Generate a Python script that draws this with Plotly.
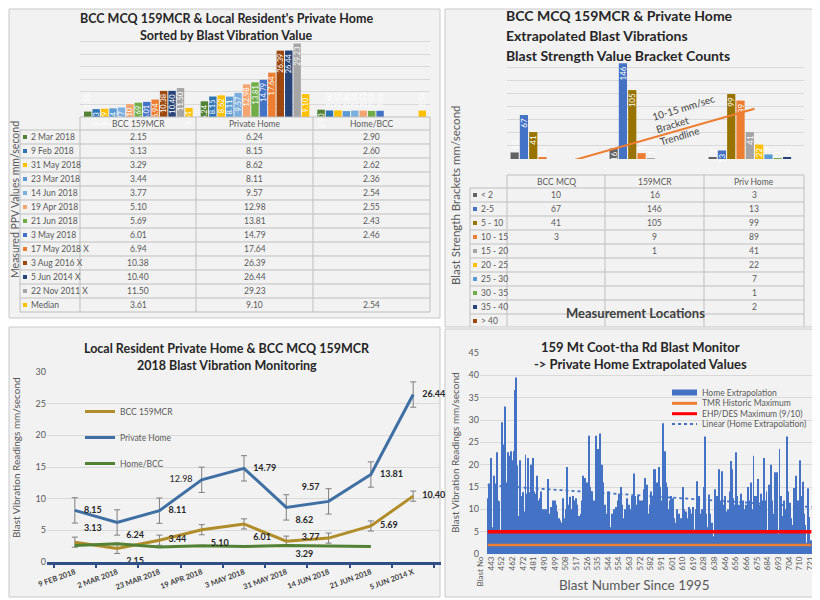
import numpy as np
import plotly.graph_objects as go

W, H = 820, 600
OFF = 8  # the page body margin that offsets the figure in the browser

# ---------------- data: top-left (sorted PPV values) ----------------
ppv_locations = ["BCC 159MCR", "Private Home", "Home/BCC"]
ppv_dates = ["2 Mar 2018", "9 Feb 2018", "31 May 2018", "23 Mar 2018", "14 Jun 2018",
             "19 Apr 2018", "21 Jun 2018", "3 May 2018", "17 May 2018 X", "3 Aug 2016 X",
             "5 Jun 2014 X", "22 Nov 2011 X", "Median"]
ppv_bcc = [2.15, 3.13, 3.29, 3.44, 3.77, 5.10, 5.69, 6.01, 6.94, 10.38, 10.40, 11.50, 3.61]
ppv_home = [6.24, 8.15, 8.62, 8.11, 9.57, 12.98, 13.81, 14.79, 17.64, 26.39, 26.44, 29.23, 9.10]
ppv_ratio = [2.90, 2.60, 2.62, 2.36, 2.54, 2.55, 2.43, 2.46, None, None, None, None, 2.54]

# ---------------- data: top-right (bracket counts) ----------------
brk_locations = ["BCC MCQ", "159MCR", "Priv Home"]
brk_labels = ["< 2", "2-5", "5 - 10", "10 - 15", "15 - 20", "20 - 25", "25 - 30",
              "30 - 35", "35 - 40", "> 40"]
brk_bcc = [10, 67, 41, 3, None, None, None, None, None, None]
brk_mcr = [16, 146, 105, 9, 1, None, None, None, None, None]
brk_home = [3, 13, 99, 89, 41, 22, 7, 1, 2, None]

# ---------------- data: bottom-left (2018 monitoring) ----------------
mon_dates = ["9 FEB 2018", "2 MAR 2018", "23 MAR 2018", "19 APR 2018", "3 MAY 2018",
             "31 MAY 2018", "14 JUN 2018", "21 JUN 2018", "5 JUN 2014 X"]
mon_bcc = [3.13, 2.15, 3.44, 5.10, 6.01, 3.29, 3.77, 5.69, 10.40]
mon_home = [8.15, 6.24, 8.11, 12.98, 14.79, 8.62, 9.57, 13.81, 26.44]
mon_ratio = [2.60, 2.90, 2.36, 2.55, 2.46, 2.62, 2.54, 2.43, None]
mon_bcc_err = 0.8
mon_home_err = 2.0

# ---------------- data: bottom-right (home extrapolation per blast) ----------------
blast_tick_labels = ["Blast No", "443", "452", "462", "472", "481", "490", "499", "508",
                     "517", "526", "535", "544", "554", "563", "572", "582", "591", "601",
                     "610", "619", "628", "638", "646", "656", "666", "675", "684", "693",
                     "704", "710", "721"]
home_extrap = (
    [None, None, None, None, None, None, 12.5, 15.8, 15.5, 21.5]
    + [6, 17.5, 12, 15.8, 22.8, 12, 11.8, 5, 29.5]
    + [21.5, 24.5, 33, 16, 22.8, 21.5, 22, 23, 21]
    + [23, 36.7, 39.5, 19.8, 8.5, 21, 13, 10, 13.8]
    + [9.5, 22.2, 13.5, 21.5, 13.8, 12, 20, 21.5, 14]
    + [8, 13.5, 17.5, 12, 12.5, 14, 10, 4.5, 10]
    + [10, 7, 16.8, 8, 9, 10.5, 12, 11, 12]
    + [11, 9.5, 8, 7.5, 6.5, 7, 12.5, 8, 10]
    + [19.5, 11, 9, 12.8, 10, 13, 12, 9, 12.5]
    + [11, 8.5, 6.5, 9, 12, 17.5, 17, 14, 16]
    + [9, 26.5, 15, 14, 10.5, 12, 11, 26.5, 23.5]
    + [22, 27, 13, 20, 16, 11, 7, 9, 14]
    + [14, 6, 9, 8.5, 10, 9, 10.5, 12, 13.5]
    + [9, 15, 11, 8, 10, 6.5, 12.5, 9, 11]
    + [10, 13, 8, 18, 13, 11, 13, 12, 12]
    + [8, 12, 14.5, 17, 10, 15.5, 9, 11, 14]
    + [13, 10, 19, 19, 16, 14, 19.5, 15, 12]
    + [29.3, 15.5, 23, 16, 15, 10, 12, 13, 10]
    + [12.5, 8, 7, 10, 6, 9, 7.5, 8, 15]
    + [10, 9, 9.5, 8, 10.5, 10, 9, 8.5, 10.5]
    + [5.5, 10, 16.3, 6, 13, 9, 10, 7, 15]
    + [26.3, 9, 6, 13.3, 9, 5, 7, 4, 14.5]
    + [11, 13, 8, 19, 12, 18.5, 10, 11, 13]
    + [9.5, 10, 2.5, 14, 20.8, 19, 12.5, 11, 22.8]
    + [13, 10, 11, 13.5, 9, 12, 9, 10, 11]
    + [15, 9, 12, 16, 10, 22, 13, 11, 13]
    + [16.8, 11, 13.5, 8, 12, 21.5, 12, 14, 5]
    + [15.5, 10, 20, 12, 9, 18.3, 12, 18.3, 4.5]
    + [23.5, 13, 7, 8.5, 12, 10, 26.3, 14, 9]
    + [11.5, 8, 6.5, 14.8, 10, 17.5, 4, 12, 21]
    + [8, 13, 16.2, 9, 6.5, 2.5, 14.7, 8.3, 3]
    + [3]
)
tmr_historic_max = 2
ehp_des_max = 5

# ---------------- styling ----------------
FONT = "Lato"
TXT = "#595959"
DARK = "#262626"
GRID = "#D9D9D9"
PANEL = "#F2F2F2"
TLINE = "#BFBFBF"
ppv_colors = ["#548235", "#2E75B6", "#FFC000", "#5B9BD5", "#7CAFDD", "#F4A46E", "#70AD47",
              "#4472C4", "#ED7D31", "#9E480E", "#264478", "#A5A5A5", "#FFC000"]
brk_colors = ["#636363", "#4472C4", "#997300", "#ED7D31", "#A5A5A5", "#FFC000", "#5B9BD5",
              "#70AD47", "#264478", "#9E480E"]
C_BCC, C_HOME, C_RATIO = "#B08D2A", "#3F6FA3", "#548235"


def px(x):
    return (x - OFF) / W


def py(y):
    return 1 - (y - OFF) / H


shapes = []
annotations = []


def ann(x, y, text, size=12, color=DARK, angle=0, xanchor="center", align="center"):
    annotations.append(dict(xref="paper", yref="paper", x=px(x), y=py(y), text=text,
                            showarrow=False, xanchor=xanchor, yanchor="middle", align=align,
                            textangle=angle, font=dict(family=FONT, size=size, color=color)))


def hline(x0, x1, y, color=TLINE, width=1, dash="solid"):
    shapes.append(dict(type="line", xref="paper", yref="paper", x0=px(x0), x1=px(x1),
                       y0=py(y), y1=py(y), line=dict(color=color, width=width, dash=dash)))


def vline(x, y0, y1, color=TLINE):
    shapes.append(dict(type="line", xref="paper", yref="paper", x0=px(x), x1=px(x),
                       y0=py(y0), y1=py(y1), line=dict(color=color, width=1)))


def rect(x0, y0, x1, y1, fill, line=None, layer="above"):
    shapes.append(dict(type="rect", xref="paper", yref="paper", x0=px(x0), x1=px(x1),
                       y0=py(y1), y1=py(y0), fillcolor=fill, layer=layer,
                       line=line if line else dict(width=0)))


def data_table(edges, y_top, head_h, row_h, header, row_labels, colors, columns, y_clip):
    """Excel-style chart data table drawn beneath a chart."""
    y_rows = y_top + head_h
    y_bot = min(y_rows + row_h * len(row_labels), y_clip)
    hline(edges[1], edges[-1], y_top)
    for r in range(len(row_labels) + 1):
        yy = y_rows + r * row_h
        if yy <= y_clip:
            hline(edges[0], edges[-1], yy)
    vline(edges[0], y_rows, y_bot)
    for e in edges[1:]:
        vline(e, y_top, y_bot)
    for c, h in enumerate(header):
        ann((edges[c + 1] + edges[c + 2]) / 2, y_top + head_h / 2, h, 8.5, TXT)
    for r, (lab, col) in enumerate(zip(row_labels, colors)):
        yc = y_rows + r * row_h + row_h / 2
        if yc > y_clip:
            continue
        rect(edges[0] + 3, yc - 2, edges[0] + 7, yc + 2, col)
        ann(edges[0] + 9, yc, lab, 8.5, TXT, xanchor="left")
        for c, vals in enumerate(columns):
            if vals[r] != "":
                ann((edges[c + 1] + edges[c + 2]) / 2, yc, vals[r], 8.5, TXT)


fig = go.Figure()

# ---- panel 1 bars
for i, d in enumerate(ppv_dates):
    fig.add_trace(go.Bar(
        x=ppv_locations, y=[ppv_bcc[i], ppv_home[i], ppv_ratio[i]], name=d,
        marker=dict(color=ppv_colors[i], line=dict(width=0)),
        texttemplate="%{y:.2f}", textposition="auto", textangle=-90, constraintext="none",
        insidetextanchor="end", textfont=dict(color="white", size=7.5, family=FONT),
        cliponaxis=False, xaxis="x", yaxis="y", showlegend=False))

fmt = lambda v: "" if v is None else f"{v:.2f}"
data_table([20, 80, 196, 313, 430], 117, 13, 14, ppv_locations, ppv_dates, ppv_colors,
           [[fmt(v) for v in ppv_bcc], [fmt(v) for v in ppv_home], [fmt(v) for v in ppv_ratio]],
           400)

# ---- panel 2 bars
for j, b in enumerate(brk_labels):
    fig.add_trace(go.Bar(
        x=brk_locations, y=[brk_bcc[j], brk_mcr[j], brk_home[j]], name=b,
        marker=dict(color=brk_colors[j], line=dict(width=0)),
        texttemplate="%{y}", textposition="auto", textangle=-90, constraintext="none",
        insidetextanchor="end", textfont=dict(color="white", size=8, family=FONT),
        cliponaxis=False, xaxis="x2", yaxis="y2", showlegend=False))

k1015 = brk_labels.index("10 - 15")
series_1015 = [brk_bcc[k1015], brk_mcr[k1015], brk_home[k1015]]
coef = np.polyfit(np.arange(len(series_1015)), series_1015, 1)
fig.add_trace(go.Scatter(
    x=brk_locations, y=np.polyval(coef, np.arange(len(series_1015))), mode="lines",
    line=dict(color="#ED7D31", width=2), xaxis="x2", yaxis="y2", showlegend=False,
    hoverinfo="skip"))

s = lambda v: "" if v is None else str(v)
data_table([470, 507, 605, 704, 804], 175, 13, 14, brk_locations, brk_labels, brk_colors,
           [[s(v) for v in brk_bcc], [s(v) for v in brk_mcr], [s(v) for v in brk_home]],
           327)

# ---- panel 3 lines
fig.add_trace(go.Scatter(
    x=mon_dates, y=mon_bcc, name="BCC 159MCR", mode="lines",
    line=dict(color=C_BCC, width=3),
    error_y=dict(type="constant", value=mon_bcc_err, color="#7F7F7F", thickness=1, width=3),
    xaxis="x3", yaxis="y3", legendgroup="a"))
fig.add_trace(go.Scatter(
    x=mon_dates, y=mon_home, name="Private Home", mode="lines",
    line=dict(color=C_HOME, width=3),
    error_y=dict(type="constant", value=mon_home_err, color="#7F7F7F", thickness=1, width=3),
    xaxis="x3", yaxis="y3", legendgroup="b"))
fig.add_trace(go.Scatter(
    x=mon_dates, y=mon_ratio, name="Home/BCC", mode="lines",
    line=dict(color=C_RATIO, width=3), xaxis="x3", yaxis="y3", legendgroup="c"))

bcc_pos = ["top right", "bottom right", "middle right", "bottom right", "bottom right",
           "bottom right", "middle left", "middle right", "middle right"]
home_pos = ["middle right", "bottom right", "middle right", "middle left", "middle right",
            "bottom right", "top left", "middle right", "middle right"]
home_txt = [f"<b>{v:.2f}</b>" if i != 3 else f"{v:.2f}" for i, v in enumerate(mon_home)]
for yv, tx, pos in [(mon_bcc, [f"<b>{v:.2f}</b>" for v in mon_bcc], bcc_pos),
                    (mon_home, home_txt, home_pos)]:
    fig.add_trace(go.Scatter(
        x=mon_dates, y=yv, mode="markers+text", text=tx, textposition=pos,
        marker=dict(size=13, opacity=0), textfont=dict(family=FONT, size=9, color=DARK),
        cliponaxis=False, xaxis="x3", yaxis="y3", showlegend=False, hoverinfo="skip"))

# ---- panel 4 bars
idx = list(range(len(home_extrap)))
valid = [i for i, v in enumerate(home_extrap) if v is not None]
fig.add_trace(go.Bar(
    x=idx, y=home_extrap, name="Home Extrapolation",
    marker=dict(color="#4472C4", line=dict(width=0)),
    xaxis="x4", yaxis="y4", showlegend=False))
fig.add_trace(go.Scatter(
    x=valid, y=[tmr_historic_max] * len(valid), mode="lines", name="TMR Historic Maximum",
    line=dict(color="#ED7D31", width=2.5), xaxis="x4", yaxis="y4", showlegend=False))
fig.add_trace(go.Scatter(
    x=valid, y=[ehp_des_max] * len(valid), mode="lines", name="EHP/DES Maximum (9/10)",
    line=dict(color="#FF0000", width=3.5), xaxis="x4", yaxis="y4", showlegend=False))
lc = np.polyfit(valid, [home_extrap[i] for i in valid], 1)
fig.add_trace(go.Scatter(
    x=valid, y=np.polyval(lc, valid), mode="lines", name="Linear (Home Extrapolation)",
    line=dict(color="#4472C4", width=1.8, dash="dot"), xaxis="x4", yaxis="y4",
    showlegend=False))

# ---------------- decorations ----------------
panel_shapes = []
for (x0, y0, x1, y1) in [(9, 9, 440, 318), (445, 9, 816, 327), (9, 327, 440, 597), (445, 329, 816, 597)]:
    panel_shapes.append(dict(type="rect", xref="paper", yref="paper", x0=px(x0), x1=px(x1),
                             y0=py(y1), y1=py(y0), fillcolor=PANEL,
                             line=dict(color="#C8C8C8", width=1), layer="below"))
shapes = panel_shapes + shapes

leg = [("bar", "#4472C4", "Home Extrapolation", 392.5),
       ("line", "#ED7D31", "TMR Historic Maximum", 403.3),
       ("line", "#FF0000", "EHP/DES Maximum (9/10)", 413.7),
       ("dot", "#4472C4", "Linear (Home Extrapolation)", 424)]
for kind, col, lab, yy in leg:
    if kind == "bar":
        rect(672, yy - 3, 697, yy + 3, col)
    else:
        hline(672, 697, yy, col, 3 if kind == "line" else 1.8, "dot" if kind == "dot" else "solid")
    ann(700, yy, lab, 8.5, TXT, xanchor="left")

ann(226, 19, "<b>BCC MCQ 159MCR & Local Resident's Private Home</b>", 12.5)
ann(226, 36, "<b>Sorted by Blast Vibration Value</b>", 12.5)
ann(15, 200, "Measured PPV Values mm/second", 10.5, TXT, -90)

ann(504, 16, "<b>BCC MCQ 159MCR & Private Home</b>", 14, xanchor="left")
ann(504, 35.5, "<b>Extrapolated Blast Vibrations</b>", 14, xanchor="left")
ann(504, 55, "<b>Blast Strength Value Bracket Counts</b>", 14, xanchor="left")
ann(455, 195, "Blast Strength Brackets mm/second", 11.5, TXT, -90)
ann(687, 120, "10-15 mm/sec<br>Bracket<br>Trendline", 10, "#404040", -17, align="left")
ann(635, 313, "<b>Measurement Locations</b>", 13, "#404040")

ann(227, 348, "<b>Local Resident Private Home & BCC MCQ 159MCR</b>", 12.5)
ann(227, 365, "<b>2018 Blast Vibration Monitoring</b>", 12.5)
ann(16, 458, "Blast Vibration Readings mm/second", 10, TXT, -90)

ann(640, 347, "<b>159 Mt Coot-tha Rd Blast Monitor</b>", 13)
ann(640, 364, "<b>-> Private Home Extrapolated Values</b>", 13)
ann(455, 453, "Blast Vibration Readings mm/second", 10, TXT, -90)
ann(634, 585, "Blast Number Since 1995", 13.5, TXT)


def dom_x(a, b):
    return [px(a), px(b)]


def dom_y(bottom, top):
    return [py(bottom), py(top)]


axfont = dict(family=FONT, size=9, color=TXT)
fig.update_layout(
    width=W, height=H, margin=dict(l=0, r=0, t=0, b=0, autoexpand=False),
    paper_bgcolor="white", plot_bgcolor="rgba(0,0,0,0)",
    barmode="group", bargap=0.06, bargroupgap=0.12,
    font=dict(family=FONT, color=TXT),
    shapes=shapes, annotations=annotations,
    xaxis=dict(domain=dom_x(80, 430), anchor="y", showticklabels=False, showgrid=False,
               zeroline=False, fixedrange=True),
    yaxis=dict(domain=dom_y(117, 29), anchor="x", range=[0, 35], dtick=5,
               showticklabels=False, gridcolor=GRID, zeroline=False),
    xaxis2=dict(domain=dom_x(507, 804), anchor="y2", showticklabels=False, showgrid=False,
                zeroline=False),
    yaxis2=dict(domain=dom_y(159, 54), anchor="x2", range=[0, 160], dtick=20,
                showticklabels=False, gridcolor=GRID, zeroline=False),
    xaxis3=dict(domain=dom_x(47, 441), anchor="y3", showgrid=False, tickangle=-20,
                tickfont=dict(family=FONT, size=7.5, color="#404040", weight=700),
                showline=True, linecolor="#2F4F86", linewidth=3, ticks="outside",
                tickson="boundaries", ticklen=3, tickwidth=2, tickcolor="#2F4F86"),
    yaxis3=dict(domain=dom_y(562, 372), anchor="x3", range=[0, 30], dtick=5,
                gridcolor=GRID, zeroline=False, tickfont=axfont, ticks=""),
    xaxis4=dict(domain=dom_x(480, 812), anchor="y4", range=[-0.5, len(home_extrap) - 0.5],
                tickvals=[i * 9 for i in range(len(blast_tick_labels))],
                ticktext=blast_tick_labels, tickangle=-90, showgrid=False, zeroline=False,
                tickfont=dict(family=FONT, size=8, color=TXT)),
    yaxis4=dict(domain=dom_y(554, 353), anchor="x4", range=[0, 45], dtick=5,
                gridcolor=GRID, zeroline=False, tickfont=axfont),
    legend=dict(x=px(80), y=py(397), xanchor="left", yanchor="top",
                bgcolor="rgba(0,0,0,0)", font=dict(family=FONT, size=8.5, color=TXT),
                tracegroupgap=7, itemwidth=30),
)

fig.write_html("out.html")
